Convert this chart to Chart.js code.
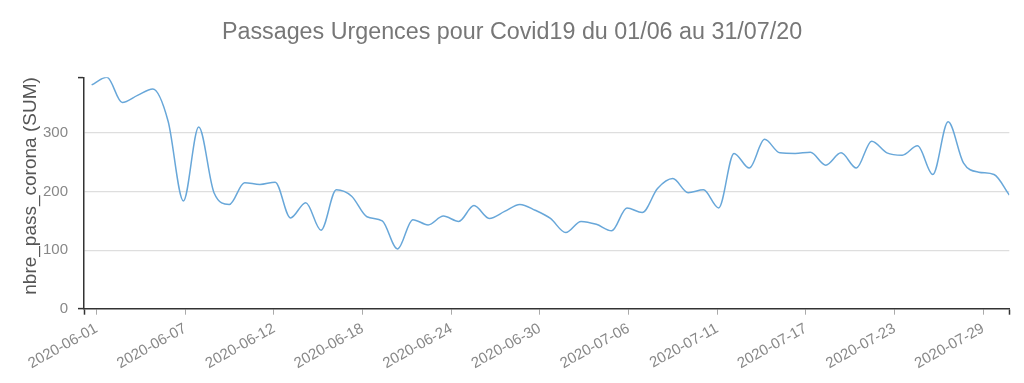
<!DOCTYPE html>
<html><head><meta charset="utf-8">
<script src="https://cdn.jsdelivr.net/npm/chart.js@4/dist/chart.umd.min.js"></script>
<style>html,body{margin:0;padding:0;background:#fff}#wrap{width:1024px;height:383px;position:relative}</style>
</head><body><div id="wrap"><canvas id="c"></canvas></div>
<script>
// ---- data ----
const values = [382, 395, 352, 364, 375, 320, 184, 310, 198, 178,
                215, 212, 216, 155, 181, 134, 203, 192, 157, 150,
                102, 152, 143, 158, 149, 176, 154, 166, 178, 168,
                154, 130, 149, 144, 133, 172, 164, 205, 222, 198,
                203, 172, 265, 240, 289, 266, 265, 267, 245, 266,
                240, 286, 266, 262, 278, 229, 319, 249, 233, 229, 194];
const tickLabels = ['2020-06-01','2020-06-07','2020-06-12','2020-06-18','2020-06-24',
                    '2020-06-30','2020-07-06','2020-07-11','2020-07-17','2020-07-23','2020-07-29'];
const yTickValues = [0, 100, 200, 300];
const yMax = 395;
const titleText = 'Passages Urgences pour Covid19 du 01/06 au 31/07/20';
const yTitleText = 'nbre_pass_corona (SUM)';

// categories (one per day, 2020-06-01 .. 2020-07-31)
const dates = values.map((_, i) => new Date(Date.UTC(2020, 5, 1 + i)).toISOString().slice(0, 10));

// axis layout params
const tickStart = 0.327, tickStep = 5.796;
const xMin = -0.5, xMax = dates.length - 1;

const FONT = "'Liberation Sans', Arial, Helvetica, sans-serif";
const AXIS = '#333';
const SIDE = 14.7;

const yTitlePlugin = {
  id: 'yTitle',
  afterDraw(chart) {
    const ctx = chart.ctx;
    const a = chart.chartArea;
    ctx.save();
    ctx.translate(31, (a.top + a.bottom) / 2 - 7);
    ctx.rotate(-Math.PI / 2);
    ctx.font = '19px ' + FONT;
    ctx.fillStyle = '#555';
    ctx.textAlign = 'center';
    ctx.textBaseline = 'middle';
    ctx.fillText(yTitleText, 0, 0);
    ctx.restore();
  }
};

new Chart(document.getElementById('c'), {
  type: 'line',
  data: {
    datasets: [{
      label: 'nbre_pass_corona',
      data: values.map((v, i) => ({ x: i, y: v })),
      borderColor: 'rgb(104,167,217)',
      borderWidth: 1.5,
      pointRadius: 0,
      fill: false,
      cubicInterpolationMode: 'monotone'
    }]
  },
  plugins: [yTitlePlugin],
  options: {
    responsive: true,
    maintainAspectRatio: false,
    animation: false,
    devicePixelRatio: 1,
    layout: { padding: { left: SIDE, right: SIDE, top: 0, bottom: 0 } },
    plugins: {
      legend: { display: false },
      tooltip: { enabled: false },
      title: {
        display: true, text: titleText, color: '#777',
        font: { family: FONT, size: 23.3, weight: 'normal', lineHeight: 1.2 },
        padding: { top: 19, bottom: 30.3 }
      }
    },
    scales: {
      x: {
        type: 'linear', min: xMin, max: xMax,
        afterBuildTicks: s => {
          s.ticks = [{ value: xMin, lab: '' }]
            .concat(tickLabels.map((l, k) => ({ value: tickStart + k * tickStep, lab: l })))
            .concat([{ value: xMax, lab: '' }]);
        },
        afterFit: s => { s.height = 383 - 308.7; },
        ticks: {
          autoSkip: false, minRotation: 29, maxRotation: 29, padding: 5,
          color: '#888', font: { family: FONT, size: 15 },
          callback: function (v, i) { return this.ticks[i].lab; }
        },
        grid: {
          drawOnChartArea: false, drawTicks: true, tickLength: 6, lineWidth: 1,
          tickColor: c => (c.tick && (c.tick.value === xMin || c.tick.value === xMax)) ? AXIS : '#aaa',
          tickWidth: c => (c.tick && (c.tick.value === xMin || c.tick.value === xMax)) ? 1.5 : 1
        },
        border: { display: true, color: AXIS, width: 1.5 }
      },
      y: {
        min: 0, max: yMax,
        afterBuildTicks: s => { s.ticks = yTickValues.concat([yMax]).map(v => ({ value: v })); },
        afterFit: s => { s.width = 84 - SIDE; },
        ticks: {
          padding: 10, color: '#888', font: { family: FONT, size: 15 },
          callback: v => (v === yMax ? '' : v)
        },
        grid: {
          drawTicks: true, tickLength: 6,
          color: c => (c.tick && (c.tick.value === 0 || c.tick.value === yMax)) ? 'rgba(0,0,0,0)' : '#dedede',
          lineWidth: 1.2,
          tickColor: c => (c.tick && (c.tick.value === 0 || c.tick.value === yMax)) ? AXIS : 'rgba(0,0,0,0)',
          tickWidth: 1.5
        },
        border: { display: true, color: AXIS, width: 1.5 }
      }
    }
  }
});
</script>
</body></html>
